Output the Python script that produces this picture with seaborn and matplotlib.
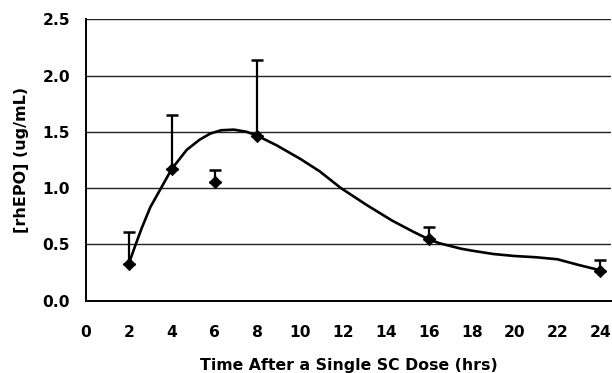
import matplotlib
matplotlib.use("Agg")
import matplotlib.pyplot as plt
import seaborn as sns
import pandas as pd
import numpy as np

# Observed data (mean and upper error bar)
time_h = [2, 4, 6, 8, 16, 24]
conc_mean = [0.326, 1.17, 1.058, 1.464, 0.548, 0.267]
conc_upper = [0.613, 1.65, 1.159, 2.14, 0.658, 0.362]

# Fitted curve
curve_t = [2, 2.3, 2.6, 3, 3.5, 4, 4.7, 5.3, 5.8, 6.3, 6.9, 7.5, 8, 8.9, 10, 10.9,
           11.9, 13.1, 14.3, 15.3, 16, 16.5, 17, 17.5, 18, 19, 20, 21, 22, 23, 24]
curve_c = [0.33, 0.49, 0.645, 0.83, 1.00, 1.17, 1.34, 1.43, 1.485, 1.514, 1.52, 1.50,
           1.465, 1.38, 1.26, 1.15, 1.0, 0.85, 0.71, 0.61, 0.545, 0.51, 0.486, 0.462,
           0.445, 0.415, 0.397, 0.386, 0.368, 0.317, 0.27]

x_ticks = list(range(0, 25, 2))
y_ticks = [0.0, 0.5, 1.0, 1.5, 2.0, 2.5]
y_ticklabels = ["0.0", "0.5", "1.0", "1.5", "2.0", "2.5"]

sns.set_style("white")
plt.rcParams["font.family"] = ["DejaVu Sans"]
plt.rcParams["text.color"] = "black"
plt.rcParams["axes.labelcolor"] = "black"
plt.rcParams["xtick.color"] = "black"
plt.rcParams["ytick.color"] = "black"

fig = plt.figure(figsize=(6.12, 3.73), dpi=100)
ax = fig.add_axes([86 / 612, (373 - 300.7) / 373, (611 - 86) / 612, (300.7 - 19.3) / 373])

pts = pd.DataFrame({"t": time_h, "c": conc_mean})
curve = pd.DataFrame({"t": curve_t, "c": curve_c})

for yv in y_ticks[1:]:
    ax.axhline(yv, color="#222222", lw=1.0, zorder=0)

err_up = np.array(conc_upper) - np.array(conc_mean)
ax.errorbar(time_h, conc_mean, yerr=[np.zeros(len(time_h)), err_up], fmt="none",
            ecolor="black", elinewidth=1.6, capsize=4.3, capthick=1.8, zorder=2)
sns.lineplot(data=curve, x="t", y="c", ax=ax, color="black", lw=1.9, sort=False,
             zorder=3, solid_joinstyle="round", solid_capstyle="round")
sns.scatterplot(data=pts, x="t", y="c", ax=ax, marker="D", s=40, color="black",
                edgecolor="black", zorder=4)

ax.set_xlim(0, 24.5)
ax.set_ylim(0, 2.5)
ax.set_xticks(x_ticks)
ax.set_yticks(y_ticks)
ax.set_yticklabels(y_ticklabels)
for s in ["top", "right"]:
    ax.spines[s].set_visible(False)
for s in ["left", "bottom"]:
    ax.spines[s].set_color("black")
    ax.spines[s].set_linewidth(1.4)
ax.tick_params(axis="x", direction="out", length=4.5, width=1.2, color="black",
               labelcolor="black", pad=13, labelsize=11.2)
ax.tick_params(axis="y", direction="out", length=4.5, width=1.2, color="black",
               labelcolor="black", pad=7, labelsize=11.2)
for lab in ax.get_xticklabels() + ax.get_yticklabels():
    lab.set_fontweight("bold")
ax.set_xlabel("Time After a Single SC Dose (hrs)", fontsize=11.3, fontweight="bold",
              labelpad=13, color="black")
ax.set_ylabel("[rhEPO] (ug/mL)", fontsize=11.5, fontweight="bold", labelpad=10,
              color="black")

fig.savefig("out.png", dpi=100)
